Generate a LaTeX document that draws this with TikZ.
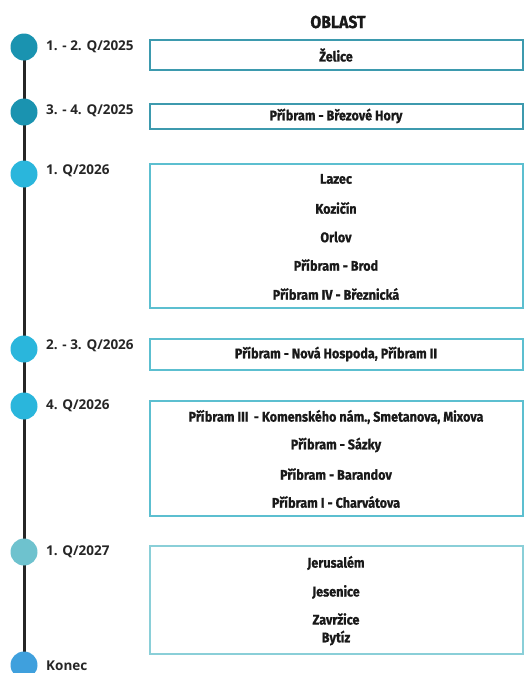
\documentclass[tikz,border=0pt]{standalone}
\usepackage{fontspec}
\setmainfont{Open Sans}
\newfontfamily\cond[FakeStretch=0.9, BoldFeatures={FakeBold=0.8}]{Fira Sans}
\definecolor{tealA}{HTML}{1A93B0}
\definecolor{cyanB}{HTML}{2AB6DC}
\definecolor{grayC}{HTML}{6EC2CE}
\definecolor{blueD}{HTML}{3FA0DD}
\definecolor{boxA}{HTML}{3D9AAE}
\definecolor{boxB}{HTML}{5CBFD0}
\definecolor{boxC}{HTML}{8ACFD8}
\tikzset{
  dot/.style={circle, minimum size=27pt, inner sep=0pt},
  qlabel/.style={anchor=west, font=\fontsize{13.5}{15}\selectfont\bfseries, text=black!85, inner sep=0pt},
  area/.style={draw=#1, line width=1.8pt},
  item/.style={font=\cond\fontsize{14}{16}\selectfont\bfseries, text=black!90, inner sep=0pt},
}
\begin{document}
\begin{tikzpicture}[x=1pt,y=-1pt]
\useasboundingbox (0,0) rectangle (525,673);
% boxes
\node[area=boxA, minimum width=373pt, minimum height=30pt, anchor=north west] (b1) at (149,39) {};
\node[area=boxA, minimum width=373pt, minimum height=25pt, anchor=north west] (b2) at (149,103) {};
\node[area=boxB, minimum width=373pt, minimum height=144pt, anchor=north west] (b3) at (149,163) {};
\node[area=boxB, minimum width=373pt, minimum height=31pt, anchor=north west] (b4) at (149,338) {};
\node[area=boxB, minimum width=373pt, minimum height=115pt, anchor=north west] (b5) at (149,400) {};
\node[area=boxC, minimum width=373pt, minimum height=108pt, anchor=north west] (b6) at (149,545) {};
% header
\node[item, font=\cond\fontsize{17.5}{19}\selectfont\bfseries] (hdr) at (338,22) {OBLAST};
% items
\node[item] (t1) at (336,55) {Želice};
\node[item] (t2) at (336,116) {Příbram - Březové Hory};
\node[item] (t3a) at (336,179) {Lazec};
\node[item] (t3b) at (336,208) {Kozičín};
\node[item] (t3c) at (336,237) {Orlov};
\node[item] (t3d) at (336,265) {Příbram - Brod};
\node[item] (t3e) at (336,294) {Příbram IV - Březnická};
\node[item] (t4) at (336,354) {Příbram - Nová Hospoda, Příbram II};
\node[item] (t5a) at (336,417) {Příbram III\, - Komenského nám., Smetanova, Mixova};
\node[item] (t5b) at (336,445) {Příbram - Sázky};
\node[item] (t5c) at (336,474) {Příbram - Barandov};
\node[item] (t5d) at (336,502) {Příbram I - Charvátova};
\node[item] (t6a) at (336,563) {Jerusalém};
\node[item] (t6b) at (336,592) {Jesenice};
\node[item] (t6c) at (336,619) {Zavržice};
\node[item] (t6d) at (336,638) {Bytíz};
% timeline
\coordinate (top) at (24,47);
\coordinate (bot) at (24,665);
\draw[line width=3pt, black!85] (top) -- (bot);
\node[dot, fill=tealA] (c1) at (24,47) {};
\node[dot, fill=tealA] (c2) at (24,112) {};
\node[dot, fill=cyanB] (c3) at (24,174) {};
\node[dot, fill=cyanB] (c4) at (24,349) {};
\node[dot, fill=cyanB] (c5) at (24,406) {};
\node[dot, fill=grayC] (c6) at (24,552) {};
\node[dot, fill=blueD] (c7) at (24,665) {};
\node[qlabel] (l1) at (46,47) {1. - 2. Q/2025};
\node[qlabel] (l2) at (46,111) {3. - 4. Q/2025};
\node[qlabel] (l3) at (46,171) {1. Q/2026};
\node[qlabel] (l4) at (46,346) {2. - 3. Q/2026};
\node[qlabel] (l5) at (46,406) {4. Q/2026};
\node[qlabel] (l6) at (46,552) {1. Q/2027};
\node[qlabel] (l7) at (46,666) {Konec};
\end{tikzpicture}
\end{document}
